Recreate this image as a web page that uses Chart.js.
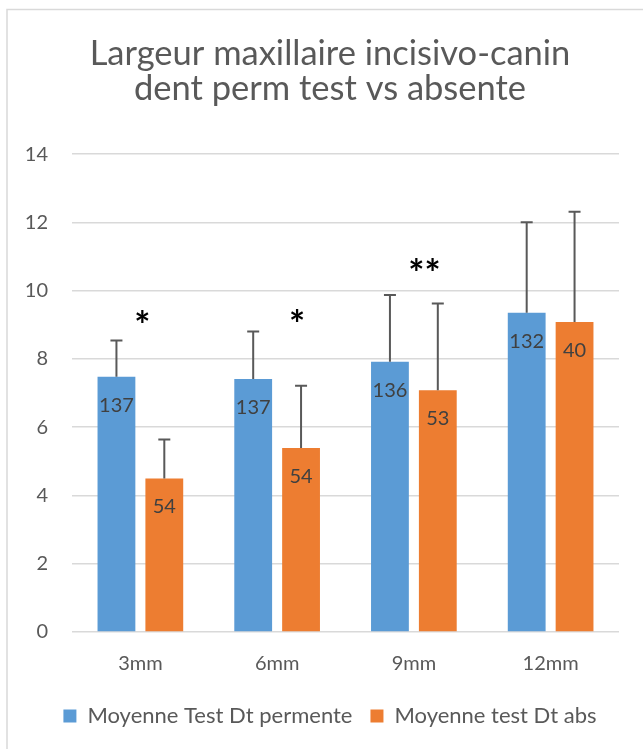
<!DOCTYPE html>
<html>
<head>
<meta charset="utf-8">
<script src="https://cdn.jsdelivr.net/npm/chart.js@4.4.1/dist/chart.umd.min.js"></script>
<style>
  html, body { margin: 0; padding: 0; background: #ffffff; overflow: hidden; }
  #wrap { position: relative; width: 643px; height: 749px; }
</style>
</head>
<body>
<div id="wrap"><canvas id="barChart" width="643" height="749"></canvas></div>
<script>
// categories (distance)
var categories = ['3mm', '6mm', '9mm', '12mm'];
// moyennes
var meanPerm = [7.48, 7.41, 7.92, 9.35]; // Moyenne Test Dt permente
var meanAbs = [4.50, 5.39, 7.08, 9.08];  // Moyenne test Dt abs
// écart-type (barre d'erreur vers le haut seulement)
var sdPerm = [1.06, 1.39, 1.95, 2.65];
var sdAbs = [1.14, 1.82, 2.54, 3.23];
// effectifs affichés dans les barres
var nPerm = [137, 137, 136, 132];
var nAbs = [54, 54, 53, 40];
// signification statistique
var sigMarks = ['*', '*', '**', ''];
var sigLevel = [9.2, 9.23, 10.72, null];
var yTicks = [0, 2, 4, 6, 8, 10, 12, 14];

var textGrey = '#595959';
var fontFam = 'Lato, "Open Sans", sans-serif';

// bordure du cadre du graphique (coupée à droite et en bas)
var framePlugin = {
  id: 'frame',
  beforeDraw: function (chart) {
    var c = chart.ctx;
    c.save();
    c.fillStyle = '#ffffff';
    c.fillRect(0, 0, chart.width, chart.height);
    c.strokeStyle = '#d9d9d9';
    c.lineWidth = 1.5;
    c.strokeRect(7, 9.5, 700, 800);
    c.restore();
  }
};

// étiquettes de l'axe Y (dessinées hors de la boîte de l'axe pour ne pas être coupées)
var yLabelsPlugin = {
  id: 'yLabels',
  afterDraw: function (chart) {
    var c = chart.ctx;
    var y = chart.scales.y;
    c.save();
    c.fillStyle = textGrey;
    c.font = '20px ' + fontFam;
    c.textAlign = 'right';
    c.textBaseline = 'middle';
    yTicks.forEach(function (v) {
      c.fillText(String(v), chart.chartArea.left - 24, y.getPixelForValue(v));
    });
    c.restore();
  }
};

// barres d'erreur + effectifs + étoiles
var extrasPlugin = {
  id: 'extras',
  afterDatasetsDraw: function (chart) {
    var c = chart.ctx;
    var y = chart.scales.y;
    var x = chart.scales.x;
    var sds = [sdPerm, sdAbs];
    var ns = [nPerm, nAbs];
    c.save();
    chart.data.datasets.forEach(function (ds, di) {
      var meta = chart.getDatasetMeta(di);
      meta.data.forEach(function (bar, i) {
        var top = y.getPixelForValue(ds.data[i] + sds[di][i]);
        c.strokeStyle = '#595959';
        c.lineWidth = 2;
        c.beginPath();
        c.moveTo(bar.x, bar.y);
        c.lineTo(bar.x, top);
        c.moveTo(bar.x - 6, top);
        c.lineTo(bar.x + 6, top);
        c.stroke();
        c.fillStyle = '#404040';
        c.font = '20px ' + fontFam;
        c.textAlign = 'center';
        c.textBaseline = 'alphabetic';
        c.fillText(String(ns[di][i]), bar.x, bar.y + 35);
      });
    });
    // étoiles
    var shift = [0.015, 0.146, 0.077, 0];
    c.fillStyle = '#000000';
    c.font = 'bold 38px ' + fontFam;
    c.textAlign = 'center';
    c.textBaseline = 'alphabetic';
    sigMarks.forEach(function (m, i) {
      if (!m) return;
      var cx = x.getPixelForValue(i) + shift[i] * (x.width / categories.length);
      var cy = y.getPixelForValue(sigLevel[i]);
      c.fillText(m, cx, cy + 21);
    });
    c.restore();
  }
};

var ctx = document.getElementById('barChart').getContext('2d');
var barChart = new Chart(ctx, {
  type: 'bar',
  data: {
    labels: categories,
    datasets: [
      { label: 'Moyenne Test Dt permente', data: meanPerm, backgroundColor: '#5b9bd5', borderWidth: 0 },
      { label: 'Moyenne test Dt abs', data: meanAbs, backgroundColor: '#ed7d31', borderWidth: 0 }
    ]
  },
  options: {
    responsive: false,
    animation: false,
    layout: { padding: { left: 41, right: 24, top: 0, bottom: 12 } },
    datasets: { bar: { categoryPercentage: 0.70, barPercentage: 0.79 } },
    plugins: {
      title: {
        display: true,
        text: ['Largeur maxillaire incisivo-canin', 'dent perm test vs absente'],
        color: textGrey,
        font: { family: fontFam, size: 34.5, weight: 'normal', lineHeight: 1.03 },
        padding: { top: 36, bottom: 47 }
      },
      legend: {
        position: 'bottom',
        labels: {
          color: textGrey,
          boxWidth: 13,
          boxHeight: 13,
          padding: 18,
          font: { family: fontFam, size: 22 }
        }
      },
      tooltip: { enabled: false }
    },
    scales: {
      y: {
        min: 0,
        max: 14,
        afterBuildTicks: function (s) { s.ticks = yTicks.map(function (v) { return { value: v }; }); },
        afterFit: function (s) { s.width = 31; },
        ticks: { display: false },
        grid: { color: '#d9d9d9', lineWidth: 1.5, drawTicks: false },
        border: { display: false }
      },
      x: {
        afterFit: function (s) { s.height = 55; },
        ticks: { color: textGrey, padding: 20, font: { family: fontFam, size: 20 } },
        grid: { display: false, drawTicks: false },
        border: { display: false }
      }
    }
  },
  plugins: [framePlugin, yLabelsPlugin, extrasPlugin]
});
</script>
</body>
</html>
